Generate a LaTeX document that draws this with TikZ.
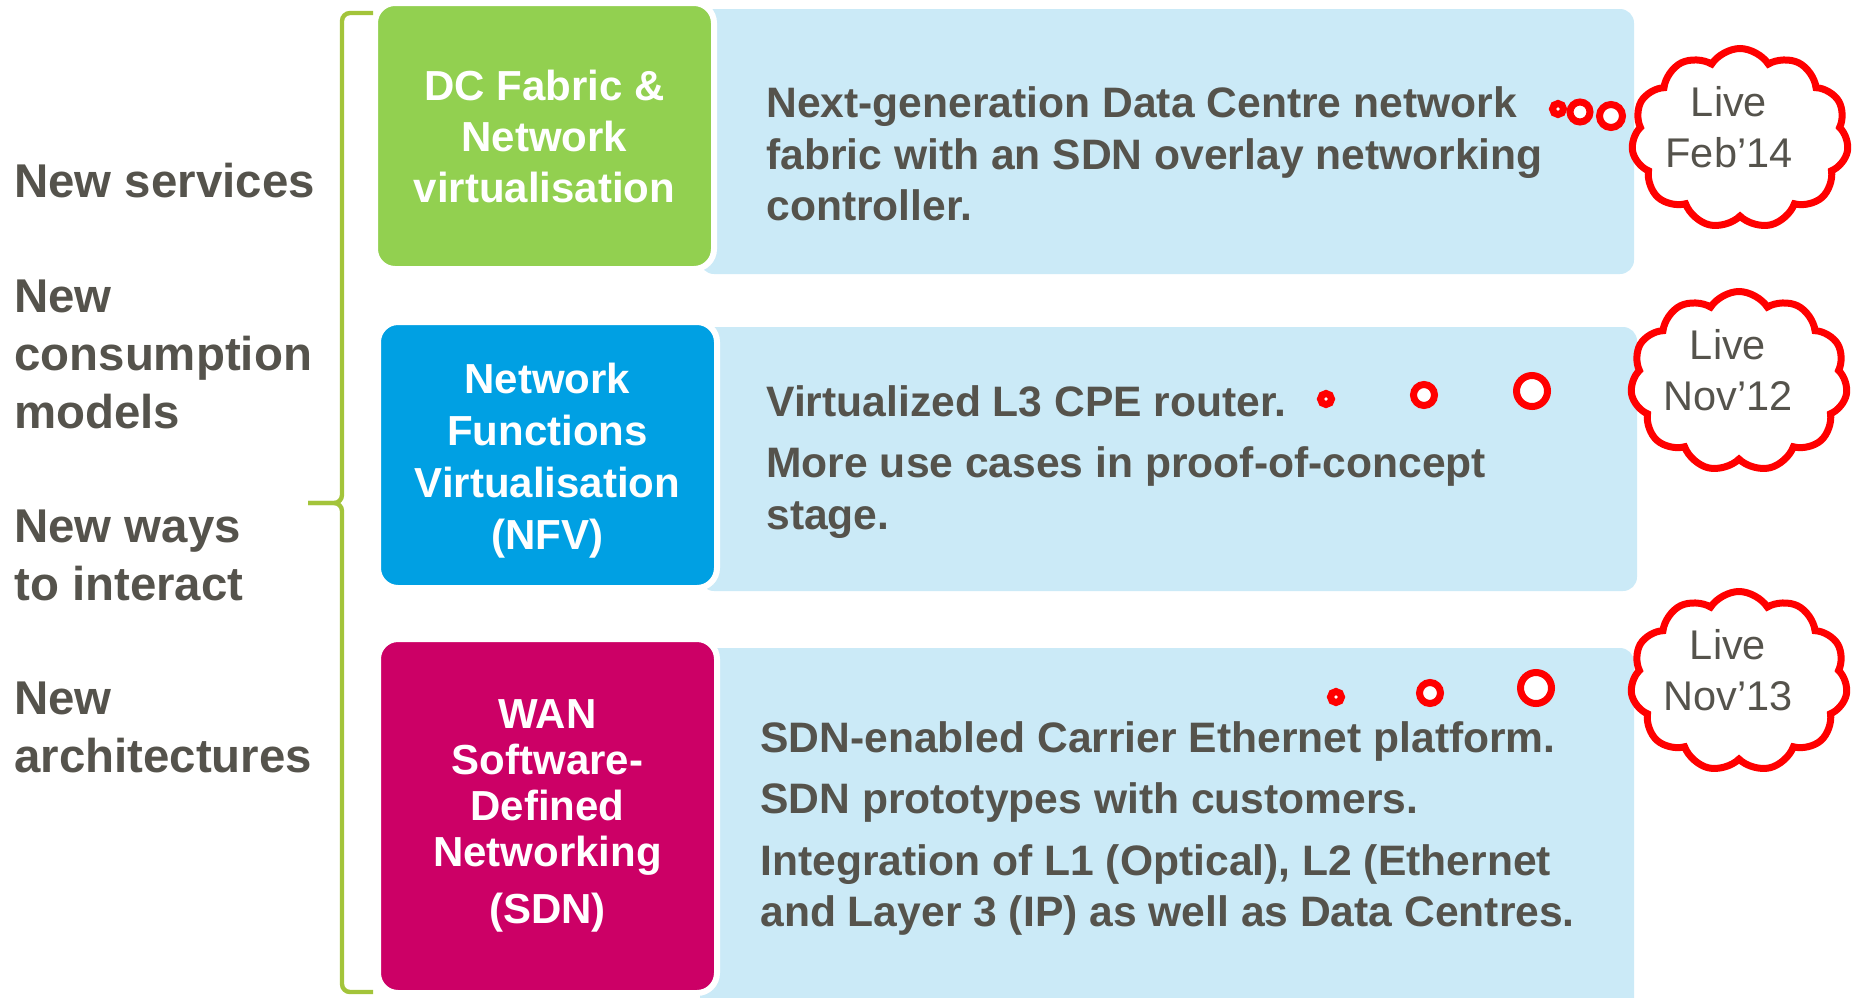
\documentclass[tikz,border=0pt]{standalone}
\usepackage{fontspec}
\setmainfont{Liberation Sans}
\usetikzlibrary{shapes.symbols}

\definecolor{panelblue}{RGB}{203,234,247}
\definecolor{dcgreen}{RGB}{146,208,80}
\definecolor{nfvblue}{RGB}{0,160,227}
\definecolor{sdnmagenta}{RGB}{204,0,102}
\definecolor{textgrey}{RGB}{85,83,76}
\definecolor{bracketgreen}{RGB}{163,196,58}
\definecolor{livered}{RGB}{255,0,0}

\tikzset{
	panel/.style={fill=panelblue, rounded corners=7pt},
	catbox/.style={draw=white, line width=3pt, rounded corners=10pt, text=white, align=center, minimum width=169.5pt, inner sep=0pt},
	paneltext/.style={text=textgrey, anchor=west, align=left, inner sep=0pt, font=\fontsize{21.3}{25.8}\selectfont\bfseries},
	sidetext/.style={text=textgrey, anchor=west, align=left, inner sep=0pt, font=\fontsize{23.7}{29}\selectfont\bfseries},
	livecloud/.style={cloud, cloud puffs=11, cloud puff arc=115, cloud ignores aspect, draw=livered, line width=3.5pt, fill=white, minimum width=108.5pt, minimum height=90pt, inner sep=0pt},
	cloudtext/.style={text=textgrey, align=center, inner sep=0pt, font=\fontsize{20.75}{25.5}\selectfont},
	bubble/.style={draw=livered, line width=3.5pt, fill=white},
	bracket/.style={draw=bracketgreen, line width=2.2pt, rounded corners=4pt}
}

\begin{document}
\begin{tikzpicture}[x=0.5pt, y=-0.5pt]
	\useasboundingbox (0,0) rectangle (1853,997);

	\fill[panel] (700,9) rectangle (1634,274);
	\fill[panel] (700,327) rectangle (1637,591);
	\fill[panel] (700,648) rectangle (1634,1020);

	\node[catbox, fill=dcgreen, minimum height=133pt, font=\fontsize{21}{25.5}\selectfont\bfseries] (dcbox) at (544.5,136) {DC Fabric \&\\Network\\virtualisation};
	\node[catbox, fill=nfvblue, minimum height=133pt, font=\fontsize{21}{26}\selectfont\bfseries] (nfvbox) at (547.5,455) {\rule{0pt}{21.3pt}Network\\Functions\\Virtualisation\\(NFV)};
	\node[catbox, fill=sdnmagenta, minimum height=177pt, font=\fontsize{21}{23}\selectfont\bfseries] (sdnbox) at (547.5,816) {WAN\\Software-\\Defined\\Networking\\[5.5pt](SDN)};

	\node[paneltext] (dctext) at (766,154) {Next-generation Data Centre network\\fabric with an SDN overlay networking\\controller.};
	\node[paneltext] (nfvtext) at (766,462) {Virtualized L3 CPE router.\\[4.5pt]More use cases in proof-of-concept\\stage.};
	\node[paneltext] (sdntext) at (760,828.5) {SDN-enabled Carrier Ethernet platform.\\[5pt]SDN prototypes with customers.\\[5pt]Integration of L1 (Optical), L2 (Ethernet\\and Layer 3 (IP) as well as Data Centres.};

	\node[sidetext] (services) at (14,181) {New services};
	\node[sidetext] (consumption) at (14,354) {New\\consumption\\models};
	\node[sidetext] (interact) at (14,555) {New ways\\to interact};
	\node[sidetext] (architectures) at (14,727) {New\\architectures};

	\draw[bracket] (373,13) -- (342,13) -- (342,503) -- (308,503);
	\draw[bracket] (308,503) -- (342,503) -- (342,992) -- (373,992);

	\draw[bubble] (1558,109) circle (2.75pt);
	\draw[bubble] (1580,112) circle (5pt);
	\draw[bubble] (1611,116) circle (5.75pt);
	\draw[bubble] (1326,399) circle (2.75pt);
	\draw[bubble] (1424,395) circle (5.25pt);
	\draw[bubble] (1532,391) circle (7.75pt);
	\draw[bubble] (1336,697) circle (2.75pt);
	\draw[bubble] (1430,693) circle (5.25pt);
	\draw[bubble] (1536,688) circle (7.75pt);

	\node[livecloud] (febcloud) at (1740,138.5) {};
	\node[livecloud] (nov12cloud) at (1739,381.5) {};
	\node[livecloud] (nov13cloud) at (1739,681.5) {};
	\node[cloudtext] (feb14) at ([shift={(-11,-11.5)}]febcloud.center) {Live\\Feb’14};
	\node[cloudtext] (nov12) at ([shift={(-11,-11.5)}]nov12cloud.center) {Live\\Nov’12};
	\node[cloudtext] (nov13) at ([shift={(-11,-11.5)}]nov13cloud.center) {Live\\Nov’13};
\end{tikzpicture}
\end{document}
